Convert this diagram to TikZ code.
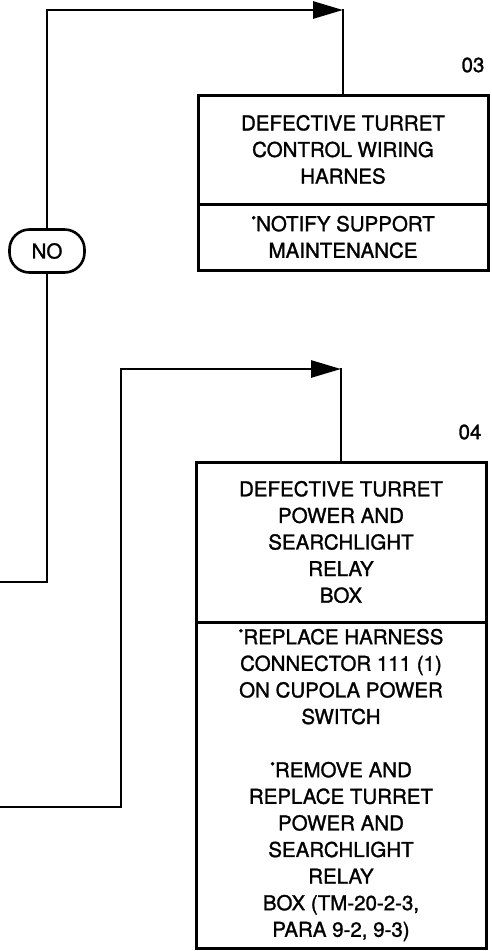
\documentclass[tikz,border=0pt]{standalone}
\usepackage{fontspec}
\newfontfamily\trbfont{TeX Gyre Heros}[FakeBold=1.3]
\usepackage{tikz}
\usetikzlibrary{arrows.meta,positioning}
\colorlet{trbink}{black}
\newcommand{\trbdot}{\raisebox{0.42em}{\fontsize{14}{14}\selectfont\textbullet}}
\tikzset{
  trbtext/.style={font=\trbfont\fontsize{20.5}{26.6}\selectfont,align=center,text=trbink},
  trbstage/.style={
    trbtext,
    draw=trbink,
    line width=3pt,
    outer sep=0pt,
    inner sep=4pt,
    minimum width=290pt
  },
  trbfault/.style={trbstage},
  trbaction/.style={trbstage},
  trbanswer/.style={trbtext,draw=trbink,line width=2.6pt,rounded corners=20pt,
                    minimum width=75pt,minimum height=43pt,inner sep=2pt,outer sep=0pt},
  trbflow/.style={line width=2.8pt,trbink,line cap=rect},
  trbarrow/.style={trbflow,-{Triangle[length=30pt,width=17pt]}},
  trbnum/.style={trbtext}
}

\begin{document}
\begin{tikzpicture}[x=1pt,y=-1pt]
  \useasboundingbox (0,0) rectangle (491,951);

  \node[trbfault,minimum height=109pt] (fault3) at (343,149.5)
    {DEFECTIVE TURRET\\CONTROL WIRING\\HARNES};
  \node[trbaction,minimum height=66pt,below=0pt of fault3] (action3)
    {\trbdot NOTIFY SUPPORT\\MAINTENANCE};
  \node[trbnum] (num3) at (473,65) {03};

  \node[trbfault,minimum height=160pt] (fault4) at (341,542)
    {DEFECTIVE TURRET\\POWER AND\\SEARCHLIGHT\\RELAY\\BOX};
  \node[trbaction,minimum height=326pt,below=0pt of fault4] (action4)
    {\trbdot REPLACE HARNESS\\CONNECTOR 111 (1)\\ON CUPOLA POWER\\SWITCH\\[26.6pt]
     \trbdot REMOVE AND\\REPLACE TURRET\\POWER AND\\SEARCHLIGHT\\RELAY\\
     BOX (TM-20-2-3,\\PARA 9-2, 9-3)};
  \node[trbnum] (num4) at (470,432) {04};

  \node[trbanswer] (no) at (47,251) {NO};

  \coordinate (in3) at (0,582);
  \coordinate (turn3) at (343,10);
  \coordinate (in4) at (0,807);
  \coordinate (bend4) at (121,369);
  \coordinate (turn4) at (341,369);

  \draw[trbflow] (in3) -| (no.south);
  \draw[trbarrow] (no.north) |- (turn3);
  \draw[trbflow] (turn3) -- (fault3.north);

  \draw[trbarrow] (in4) -| (bend4) -- (turn4);
  \draw[trbflow] (turn4) -- (fault4.north);
\end{tikzpicture}
\end{document}
